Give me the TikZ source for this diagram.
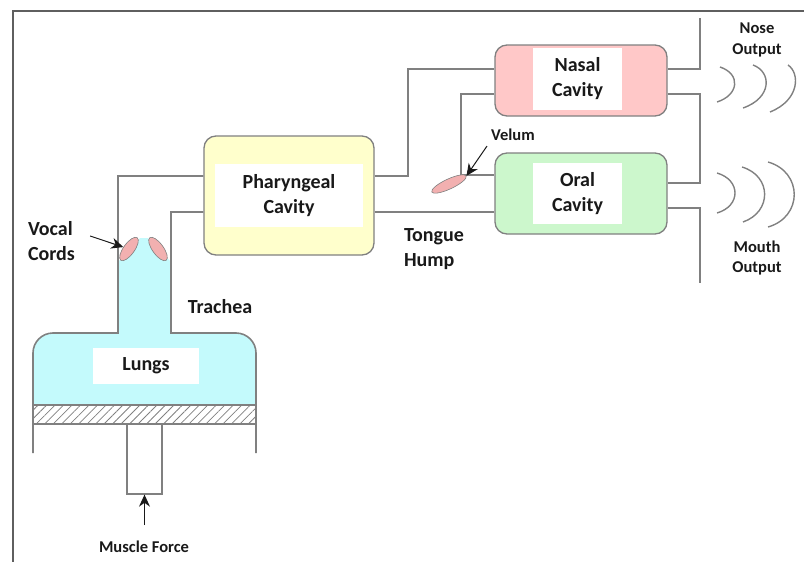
\documentclass[tikz,border=0pt]{standalone}
\usepackage{fontspec}
\setmainfont{Carlito}
\usetikzlibrary{arrows.meta,shapes.geometric,patterns.meta}

\definecolor{linegray}{RGB}{128,128,128}
\definecolor{framegray}{RGB}{95,95,95}
\definecolor{pharfill}{RGB}{255,255,204}
\definecolor{nasalfill}{RGB}{255,200,200}
\definecolor{oralfill}{RGB}{204,247,204}
\definecolor{lungfill}{RGB}{196,250,252}
\definecolor{cordfill}{RGB}{242,176,176}
\definecolor{txt}{RGB}{25,25,25}
\newcommand{\bigtxt}{\fontsize{20}{25}\selectfont\bfseries}
\newcommand{\smalltxt}{\fontsize{16.5}{20.5}\selectfont\bfseries}

\begin{document}
\begin{tikzpicture}[arr/.style={-{Stealth[width=11pt,length=12pt]}, line width=1pt, txt}, tube/.style={draw=linegray, line width=1.6pt}, cavity/.style={draw=linegray, line width=1.3pt, rounded corners=12pt, inner sep=0pt}, lbl/.style={fill=white, inner sep=0pt, align=center, text=txt, font=\bigtxt}, big/.style={text=txt, font=\bigtxt, inner sep=1pt}, small/.style={text=txt, font=\smalltxt, inner sep=1pt, align=center}, cord/.style={ellipse, fill=cordfill, draw=linegray, line width=0.6pt, inner sep=0pt}, wave/.style={draw=linegray, line width=1.4pt}]
\useasboundingbox (0pt,0pt) rectangle (804pt,-562pt);
\draw[framegray, line width=1.6pt] (13pt,-562pt) -- (13pt,-11pt) -- (804pt,-11pt);

% cavities
\draw (289pt,-195.5pt)node[cavity, fill=pharfill, minimum width=170pt, minimum height=119pt](phar){};
\draw (581pt,-80.5pt)node[cavity, fill=nasalfill, minimum width=172pt, minimum height=71pt](nasal){};
\draw (581pt,-193.5pt)node[cavity, fill=oralfill, minimum width=172pt, minimum height=81pt](oral){};
\draw (289pt,-195.5pt)node[lbl, minimum width=148pt, minimum height=63pt](pharlbl){Pharyngeal\\Cavity};
\draw (577.5pt,-79pt)node[lbl, minimum width=89pt, minimum height=62pt](nasallbl){Nasal\\Cavity};
\draw (577.5pt,-193.5pt)node[lbl, minimum width=89pt, minimum height=61pt](orallbl){Oral\\Cavity};

% lungs and trachea
\fill[lungfill] (33pt,-405pt) -- (33pt,-353pt) arc (180:90:20pt) -- (118pt,-333pt) -- (118pt,-262pt) -- (140pt,-238pt) -- (148pt,-238pt) -- (171pt,-262pt) -- (171pt,-333pt) -- (236pt,-333pt) arc (90:0:20pt) -- (256pt,-405pt) -- cycle;
\draw[pattern={Lines[angle=45,distance=6pt,line width=0.8pt]}, pattern color=linegray, draw=linegray, line width=1.3pt] (33pt,-405pt) rectangle (256pt,-424pt);
\draw[tube] (33pt,-453pt) -- (33pt,-353pt) arc (180:90:20pt) -- (118pt,-333pt) -- (118pt,-176pt) -- (phar.west |- 0pt,-176pt);
\draw[tube] (phar.west |- 0pt,-212pt) -- (171pt,-212pt) -- (171pt,-333pt) -- (236pt,-333pt) arc (90:0:20pt) -- (256pt,-453pt);
\draw (144.5pt,-459pt)node[draw=linegray, line width=1.3pt, fill=white, minimum width=35pt, minimum height=70pt](piston){};
\draw (146pt,-366pt)node[lbl, minimum width=106pt, minimum height=36pt](lungslbl){Lungs};
\draw (129pt,-249pt)node[cord, rotate=54, minimum width=28pt, minimum height=11pt](cordL){};
\draw (158pt,-249pt)node[cord, rotate=-54, minimum width=28pt, minimum height=11pt](cordR){};

% tubes
\draw[tube] (phar.east |- 0pt,-176pt) -- (408pt,-176pt) -- (408pt,-69pt) -- (nasal.west |- 0pt,-69pt);
\draw[tube] (phar.east |- 0pt,-212pt) -- (oral.west |- 0pt,-212pt);
\draw[tube] (nasal.west |- 0pt,-94pt) -- (461pt,-94pt) -- (461pt,-175pt) -- (oral.west |- 0pt,-175pt);
\draw[tube] (nasal.east |- 0pt,-69pt) -- (700pt,-69pt) -- (700pt,-18pt);
\draw[tube] (nasal.east |- 0pt,-94pt) -- (700pt,-94pt) -- (700pt,-183pt) -- (oral.east |- 0pt,-183pt);
\draw[tube] (oral.east |- 0pt,-208pt) -- (700pt,-208pt) -- (700pt,-283pt);
\draw (449pt,-184pt)node[cord, rotate=25, minimum width=38pt, minimum height=10pt](velum){};

% sound waves
\draw[wave] (720pt,-67pt) .. controls (741pt,-74pt) and (739pt,-95pt) .. (717pt,-102pt);
\draw[wave] (753pt,-65pt) .. controls (772pt,-72pt) and (772pt,-98pt) .. (743pt,-108pt);
\draw[wave] (788pt,-65pt) .. controls (800pt,-73pt) and (800pt,-100pt) .. (770pt,-112pt);
\draw[wave] (717pt,-173pt) .. controls (741pt,-180pt) and (741pt,-206pt) .. (717pt,-213pt);
\draw[wave] (742pt,-167pt) .. controls (772pt,-176pt) and (772pt,-212pt) .. (743pt,-222pt);
\draw[wave] (768pt,-162pt) .. controls (803pt,-172pt) and (803pt,-217pt) .. (768pt,-227pt);

% labels
\draw (51.5pt,-241pt)node[big, align=left](vocal){Vocal\\Cords};
\draw (220pt,-307pt)node[big](trachea){Trachea};
\draw (434pt,-249pt)node[big, align=left](tongue){Tongue\\Hump};
\draw (513pt,-135pt)node[small](velumlbl){Velum};
\draw (757pt,-40pt)node[small](nose){Nose\\Output};
\draw (757pt,-258pt)node[small](mouth){Mouth\\Output};
\draw (144pt,-547pt)node[small](force){Muscle Force};
\draw[arr] ([xshift=14pt,yshift=5pt]vocal.east) -- (cordL);
\draw[arr] ([xshift=-26pt,yshift=-4pt]velumlbl.south) -- (velum.east);
\draw[arr, line width=1.2pt] (144.5pt,-525pt) -- (piston.south);
\end{tikzpicture}
\end{document}
